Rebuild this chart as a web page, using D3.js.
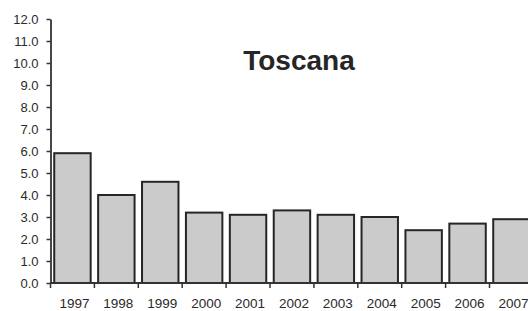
<!DOCTYPE html>
<html>
<head>
<meta charset="utf-8">
<script src="https://cdn.jsdelivr.net/npm/d3@7"></script>
<style>
  body { margin: 0; background: #fff; }
  svg { display: block; font-family: "Liberation Sans", Arial, sans-serif; }
</style>
</head>
<body>
<svg id="chart" width="528" height="311"></svg>
<script>
var years = ['1997', '1998', '1999', '2000', '2001', '2002', '2003', '2004', '2005', '2006', '2007'];
var values = [5.9, 4.0, 4.6, 3.2, 3.1, 3.3, 3.1, 3.0, 2.4, 2.7, 2.9];
var yTicks = [0, 1, 2, 3, 4, 5, 6, 7, 8, 9, 10, 11, 12];
var title = 'Toscana';

var svg = d3.select('#chart');

var x0 = 50.5, step = 43.9;
var x = d3.scaleBand()
  .domain(years)
  .range([x0, x0 + step * years.length])
  .paddingInner(0.17)
  .paddingOuter(0.085);

var y = d3.scaleLinear()
  .domain([0, 12])
  .range([283, 19]);

// bars
svg.append('g')
  .selectAll('rect')
  .data(values)
  .enter()
  .append('rect')
  .attr('x', function(d, i) { return x(years[i]); })
  .attr('y', function(d) { return y(d); })
  .attr('width', x.bandwidth())
  .attr('height', function(d) { return y(0) - y(d); })
  .attr('fill', '#cbcbcb')
  .attr('stroke', '#262626')
  .attr('stroke-width', 2);

// y axis
var yAxis = svg.append('g')
  .attr('transform', 'translate(' + x0 + ',0)')
  .call(d3.axisLeft(y).tickValues(yTicks).tickSize(4).tickSizeOuter(0)
    .tickFormat(function(d) { return d.toFixed(1); }));
yAxis.select('.domain').attr('stroke', '#333').attr('stroke-width', 1.8);
yAxis.selectAll('.tick line').attr('stroke', '#333').attr('stroke-width', 1.5);
yAxis.selectAll('.tick text')
  .attr('x', -12)
  .attr('fill', '#2a2a2a')
  .style('font-size', '13px');

// x axis line with ticks at band boundaries
var xAxis = svg.append('g');
xAxis.append('line')
  .attr('x1', x0).attr('x2', 528)
  .attr('y1', y(0)).attr('y2', y(0))
  .attr('stroke', '#333').attr('stroke-width', 1.8);
xAxis.selectAll('line.tk')
  .data(years)
  .enter()
  .append('line')
  .attr('class', 'tk')
  .attr('x1', function(d, i) { return x0 + step * i; })
  .attr('x2', function(d, i) { return x0 + step * i; })
  .attr('y1', y(0)).attr('y2', y(0) + 5)
  .attr('stroke', '#333').attr('stroke-width', 1.5);
xAxis.selectAll('text')
  .data(years)
  .enter()
  .append('text')
  .attr('x', function(d) { return x(d) + x.bandwidth() / 2 + 2; })
  .attr('y', 308)
  .attr('text-anchor', 'middle')
  .attr('fill', '#2a2a2a')
  .style('font-size', '13.5px')
  .text(function(d) { return d; });

// title
svg.append('text')
  .attr('x', 299)
  .attr('y', 70)
  .attr('text-anchor', 'middle')
  .attr('fill', '#262626')
  .style('font-size', '28px')
  .style('font-weight', 'bold')
  .text(title);
</script>
</body>
</html>
